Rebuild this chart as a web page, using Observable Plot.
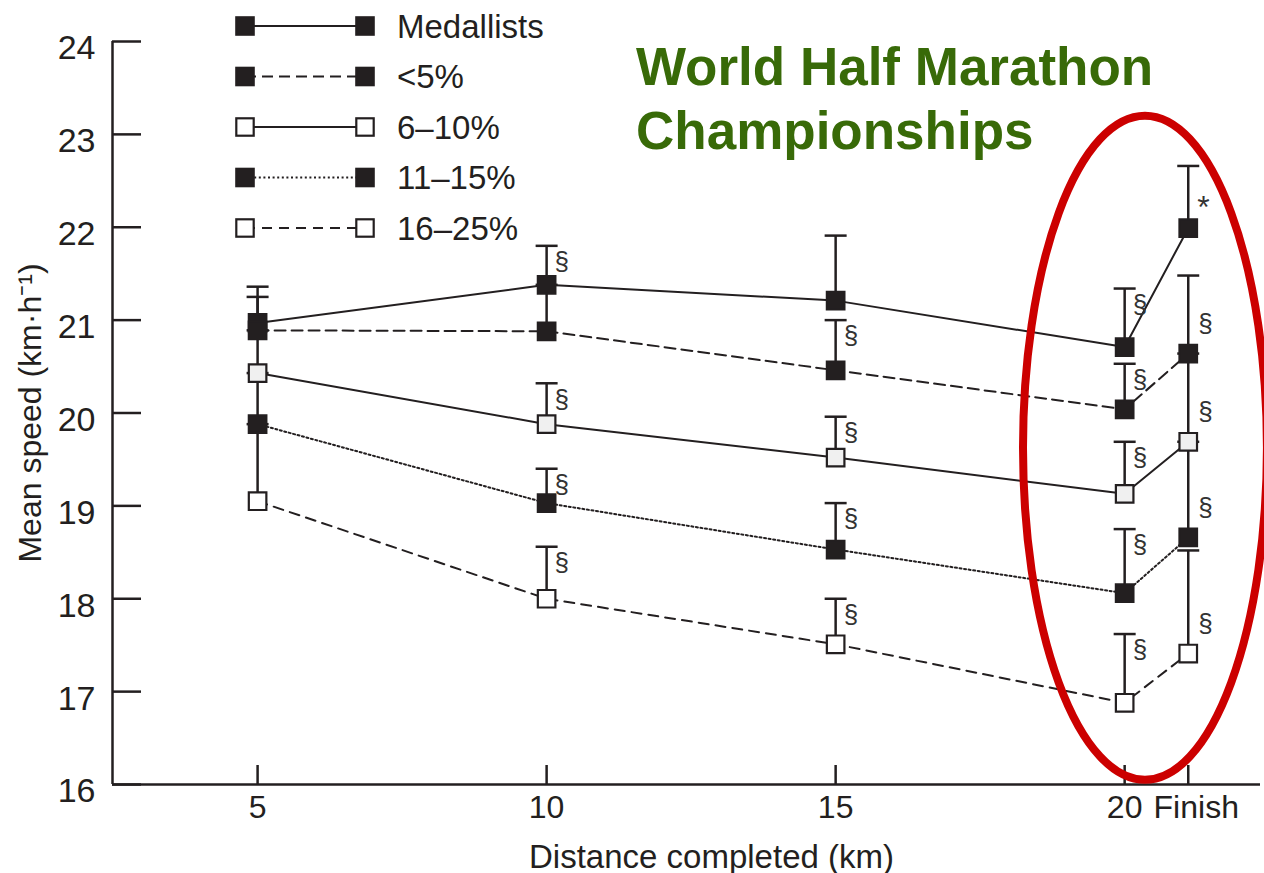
<!DOCTYPE html>
<html><head><meta charset="utf-8">
<script src="https://cdn.jsdelivr.net/npm/d3@7"></script>
<script src="https://cdn.jsdelivr.net/npm/@observablehq/plot@0.6"></script>
<style>body{margin:0;background:#fff} svg{display:block}</style>
</head><body><div id="chart"></div>
<script>
// ---- data ----
const distances = [5, 10, 15, 20, 21.1];
const distanceLabels = ["5", "10", "15", "20", "Finish"];
const yTicks = [16, 17, 18, 19, 20, 21, 22, 23, 24];
const seriesNames = ["Medallists", "<5%", "6–10%", "11–15%", "16–25%"];

const medallists = [20.97, 21.38, 21.21, 20.71, 21.99];
const under5     = [20.89, 20.88, 20.46, 20.04, 20.64];
const p6to10     = [20.43, 19.88, 19.52, 19.13, 19.69];
const p11to15    = [19.88, 19.03, 18.53, 18.06, 18.66];
const p16to25    = [19.05, 18.00, 17.51, 16.88, 17.41];

const medallistsTop = [21.36, 21.80, 21.91, 21.34, 22.66];
const under5Top     = [21.25, 21.38, 21.00, 20.53, 21.48];
const p6to10Top     = [20.89, 20.32, 19.96, 19.69, 20.64];
const p11to15Top    = [20.43, 19.40, 19.03, 18.75, 19.69];
const p16to25Top    = [19.88, 18.56, 18.00, 17.62, 18.52];

const medallistsSig = ["", "§", "", "§", "*"];
const under5Sig     = ["", "", "§", "§", "§"];
const p6to10Sig     = ["", "§", "§", "§", "§"];
const p11to15Sig    = ["", "§", "§", "§", "§"];
const p16to25Sig    = ["", "§", "§", "§", "§"];

const titleLines = ["World Half Marathon", "Championships"];
const xLabel = "Distance completed (km)";
const yLabel = "Mean speed (km·h⁻¹)";

// ---- styles ----
const dark = "#231f20";
const seriesValues = [medallists, under5, p6to10, p11to15, p16to25];
const seriesTops = [medallistsTop, under5Top, p6to10Top, p11to15Top, p16to25Top];
const seriesSig = [medallistsSig, under5Sig, p6to10Sig, p11to15Sig, p16to25Sig];
const seriesDash = [null, "11,6", null, "2,2.6", "10,7"];
const seriesFill = [dark, dark, "#f0f0f0", dark, "#ffffff"];
const legendFill = [dark, dark, "#ffffff", dark, "#ffffff"];

const xDomain = [2.49, 22.35];
const font = "'Liberation Sans', Arial, Helvetica, sans-serif";

const tables = seriesNames.map((name, s) => distances.map((d, i) => ({
  series: name, x: d, v: seriesValues[s][i], top: seriesTops[s][i],
  sig: seriesSig[s][i], finish: i === distances.length - 1
})));
const all = tables.flat();
const lastIdx = distances.length - 1;
const fmtX = d => distanceLabels[distances.indexOf(d)];

const capSymbol = {draw(ctx, size) { const r = Math.sqrt(size / Math.PI); ctx.moveTo(-r, 0); ctx.lineTo(r, 0); }};

const marks = [
  Plot.ruleX([xDomain[0]], {stroke: dark, strokeWidth: 2.5}),
  Plot.ruleY([16], {stroke: dark, strokeWidth: 2.5}),
  Plot.axisY(yTicks, {tickSize: 29, dx: 29, fill: "none", stroke: dark, strokeWidth: 2.5, label: null}),
  Plot.axisY(yTicks, {tickSize: 0, tickPadding: 17, dy: 7, fontSize: 34, fill: dark, label: null, tickFormat: d => String(d)}),
  Plot.axisX(distances, {tickSize: 19, dy: -19, fill: "none", stroke: dark, strokeWidth: 2.5, label: null}),
  Plot.axisX(distances.slice(0, lastIdx), {tickSize: 0, tickPadding: 11, fontSize: 32, fill: dark, label: null, tickFormat: fmtX}),
  Plot.axisX(distances.slice(lastIdx), {tickSize: 0, tickPadding: 11, dx: 8, fontSize: 32, fill: dark, label: null, tickFormat: fmtX}),
  Plot.text([xLabel], {frameAnchor: "bottom", dx: 25, dy: 73, textAnchor: "middle", lineAnchor: "middle", fontSize: 33, fill: dark}),
  Plot.text([yLabel], {frameAnchor: "left", rotate: -90, dx: -82, textAnchor: "middle", lineAnchor: "middle", fontSize: 32, fill: dark}),
];
tables.forEach((t, s) => {
  marks.push(Plot.line(t, {x: "x", y: "v", stroke: dark, strokeWidth: 2, strokeDasharray: seriesDash[s]}));
});
marks.push(Plot.ruleX(all, {x: "x", y1: "v", y2: "top", stroke: dark, strokeWidth: 2.5}));
marks.push(Plot.dot(all, {x: "x", y: "top", symbol: capSymbol, r: 11, stroke: dark, strokeWidth: 2.5, fill: "none"}));
tables.forEach((t, s) => {
  marks.push(Plot.dot(t, {x: "x", y: "v", symbol: "square", r: 9.9, fill: seriesFill[s], stroke: dark, strokeWidth: 2.2}));
});
marks.push(Plot.text(all.filter(d => d.sig === "§" && !d.finish), {x: "x", y: "top", text: "sig", dx: 8, dy: 16, textAnchor: "start", fontSize: 26, fill: "#333"}));
marks.push(Plot.text(all.filter(d => d.sig === "§" && d.finish), {x: "x", y: "v", text: "sig", dx: 10, dy: -30, textAnchor: "start", fontSize: 26, fill: "#333"}));
marks.push(Plot.text(all.filter(d => d.sig === "*"), {x: "x", y: "v", text: "sig", dx: 9, dy: -20, textAnchor: "start", fontSize: 32, fill: "#333"}));

const plot = Plot.plot({
  width: 1264, height: 873,
  marginLeft: 112, marginRight: 4, marginTop: 41, marginBottom: 89,
  x: {domain: xDomain},
  y: {domain: [16, 24]},
  style: {fontFamily: font, fontSize: "30px", color: dark, background: "#fff", overflow: "visible"},
  marks
});
document.getElementById("chart").appendChild(plot);

// ---- annotations: legend, title, ellipse ----
const svg = d3.select(plot);
const xs = plot.scale("x"), ys = plot.scale("y");
const legend = svg.append("g").attr("text-anchor", "start");
seriesNames.forEach((name, i) => {
  const y = 26 + i * 50.5;
  const g = legend.append("g").attr("transform", `translate(0,${y})`);
  g.append("line").attr("x1", 245).attr("x2", 365).attr("stroke", dark).attr("stroke-width", 2)
    .attr("stroke-dasharray", seriesDash[i]);
  [245, 365].forEach(cx => g.append("rect").attr("x", cx - 8.7).attr("y", -8.7).attr("width", 17.4).attr("height", 17.4)
    .attr("fill", legendFill[i]).attr("stroke", dark).attr("stroke-width", 2.2));
  g.append("text").attr("x", 397).attr("dy", "0.35em").attr("font-size", 33).attr("fill", dark)
    .attr("text-anchor", "start").attr("font-family", font).text(name);
});
const title = svg.append("text").attr("font-family", font).attr("font-weight", "bold")
  .attr("text-anchor", "start").attr("font-size", 53).attr("fill", "#386a08");
titleLines.forEach((t, i) => title.append("tspan").attr("x", 636).attr("y", 85 + i * 64).text(t));

const ellipseCenter = {x: 20.36, y: 19.62}, ellipseRadius = {x: 2.11, y: 3.575};
svg.append("ellipse")
  .attr("cx", xs.apply(ellipseCenter.x)).attr("cy", ys.apply(ellipseCenter.y))
  .attr("rx", xs.apply(ellipseCenter.x + ellipseRadius.x) - xs.apply(ellipseCenter.x))
  .attr("ry", ys.apply(ellipseCenter.y) - ys.apply(ellipseCenter.y + ellipseRadius.y))
  .attr("fill", "none").attr("stroke", "#cc0000").attr("stroke-width", 8);
</script></body></html>
